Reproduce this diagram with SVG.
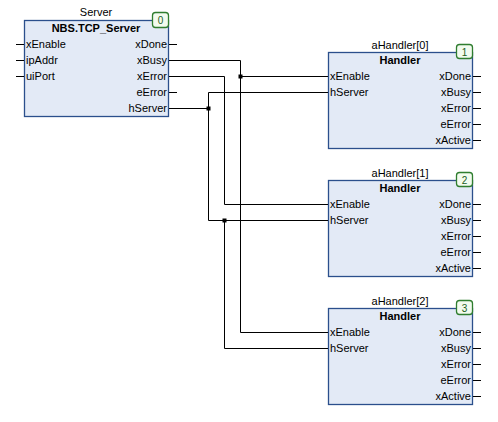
<svg xmlns="http://www.w3.org/2000/svg" width="498" height="422" viewBox="0 0 498 422">
<style>
.box{fill:#e3eaf6;stroke:#2b4f8c;stroke-width:1.3}
.badge{fill:#f2fbef;stroke:#2f7d2f;stroke-width:1.3}
.bt{font-family:"Liberation Sans",Arial,sans-serif;font-size:10px;fill:#1d5e1d;text-anchor:middle}
text{font-family:"Liberation Sans",Arial,sans-serif;font-size:11px;fill:#000}
.t{text-anchor:middle}
.h{text-anchor:middle;font-weight:bold}
.r{text-anchor:end}
.w{stroke:#000;stroke-width:1;fill:none}
.d{fill:#000}
</style>
<rect width="498" height="422" fill="#fff"/>
<g id="Server">
<text class="t" x="96" y="16">Server</text>
<rect class="box" x="24.5" y="20.5" width="144" height="96"/>
<rect class="badge" x="152.5" y="12.5" width="16" height="15" rx="3"/>
<text class="bt" x="160.5" y="24">0</text>
<text class="h" x="96" y="32">NBS.TCP_Server</text>
<path class="w" d="M16 44.5H24M16 60.5H24M16 76.5H24M169 44.5H177M169 92.5H177"/>
<text x="26" y="48">xEnable</text>
<text x="26" y="64">ipAddr</text>
<text x="26" y="80">uiPort</text>
<text class="r" x="167" y="48">xDone</text>
<text class="r" x="167" y="64">xBusy</text>
<text class="r" x="167" y="80">xError</text>
<text class="r" x="167" y="96">eError</text>
<text class="r" x="167" y="112">hServer</text>
</g>
<g id="aHandler0">
<text class="t" x="400" y="49">aHandler[0]</text>
<rect class="box" x="328.5" y="52.5" width="144" height="96"/>
<rect class="badge" x="456.5" y="44.5" width="16" height="14" rx="3"/>
<text class="bt" x="464.5" y="55.5">1</text>
<text class="h" x="400" y="64">Handler</text>
<path class="w" d="M473 76.5H481M473 92.5H481M473 108.5H481M473 124.5H481M473 140.5H481"/>
<text x="330" y="80">xEnable</text>
<text x="330" y="96">hServer</text>
<text class="r" x="471" y="80">xDone</text>
<text class="r" x="471" y="96">xBusy</text>
<text class="r" x="471" y="112">xError</text>
<text class="r" x="471" y="128">eError</text>
<text class="r" x="471" y="144">xActive</text>
</g>
<g id="aHandler1">
<text class="t" x="400" y="177">aHandler[1]</text>
<rect class="box" x="328.5" y="180.5" width="144" height="96"/>
<rect class="badge" x="456.5" y="172.5" width="16" height="14" rx="3"/>
<text class="bt" x="464.5" y="183.5">2</text>
<text class="h" x="400" y="192">Handler</text>
<path class="w" d="M473 204.5H481M473 220.5H481M473 236.5H481M473 252.5H481M473 268.5H481"/>
<text x="330" y="208">xEnable</text>
<text x="330" y="224">hServer</text>
<text class="r" x="471" y="208">xDone</text>
<text class="r" x="471" y="224">xBusy</text>
<text class="r" x="471" y="240">xError</text>
<text class="r" x="471" y="256">eError</text>
<text class="r" x="471" y="272">xActive</text>
</g>
<g id="aHandler2">
<text class="t" x="400" y="305">aHandler[2]</text>
<rect class="box" x="328.5" y="308.5" width="144" height="96"/>
<rect class="badge" x="456.5" y="300.5" width="16" height="14" rx="3"/>
<text class="bt" x="464.5" y="311.5">3</text>
<text class="h" x="400" y="320">Handler</text>
<path class="w" d="M473 332.5H481M473 348.5H481M473 364.5H481M473 380.5H481M473 396.5H481"/>
<text x="330" y="336">xEnable</text>
<text x="330" y="352">hServer</text>
<text class="r" x="471" y="336">xDone</text>
<text class="r" x="471" y="352">xBusy</text>
<text class="r" x="471" y="368">xError</text>
<text class="r" x="471" y="384">eError</text>
<text class="r" x="471" y="400">xActive</text>
</g>
<g id="connectors">
<path class="w" d="M169 60.5H240.5V332.5H328"/>
<path class="w" d="M240.5 76.5H328"/>
<path class="w" d="M169 76.5H224.5V204.5H328"/>
<path class="w" d="M169 108.5H208.5"/>
<path class="w" d="M328 92.5H208.5V220.5H328"/>
<path class="w" d="M224.5 220.5V348.5H328"/>
<rect class="d" x="238.5" y="74.5" width="4" height="4"/>
<rect class="d" x="206.5" y="106.5" width="4" height="4"/>
<rect class="d" x="222.5" y="218.5" width="4" height="4"/>
</g>
</svg>
